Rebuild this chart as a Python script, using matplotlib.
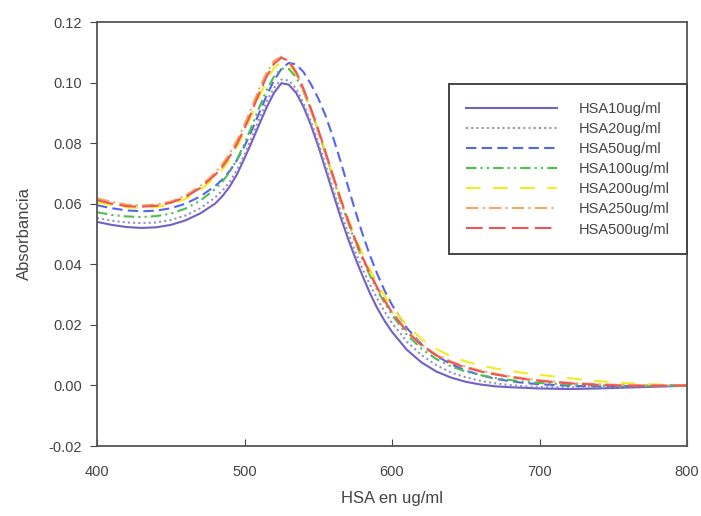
import matplotlib
matplotlib.use("Agg")
import matplotlib.pyplot as plt

plt.rcParams['font.family'] = ['Liberation Sans', 'DejaVu Sans']

wavelength = [400, 410, 420, 430, 440, 450, 460, 470, 480, 485, 490, 495, 500, 505, 510,
              515, 520, 525, 530, 535, 540, 545, 550, 555, 560, 565, 570, 575, 580, 585,
              590, 595, 600, 610, 620, 630, 640, 650, 660, 670, 680, 690, 700, 720, 740,
              760, 780, 800]

hsa10 = [0.0540, 0.0530, 0.0523, 0.0520, 0.0522, 0.0530, 0.0545, 0.0568, 0.0600, 0.0625,
         0.0657, 0.0698, 0.0750, 0.0805, 0.0862, 0.0918, 0.0966, 0.0998, 0.0993, 0.0966,
         0.0920, 0.0860, 0.0790, 0.0713, 0.0635, 0.0558, 0.0487, 0.0422, 0.0362, 0.0305,
         0.0255, 0.0213, 0.0177, 0.0118, 0.0076, 0.0046, 0.0026, 0.0012, 0.0003, -0.0003,
         -0.0006, -0.0008, -0.0010, -0.0012, -0.0010, -0.0007, -0.0004, -0.0001]

hsa20 = [0.0553, 0.0544, 0.0538, 0.0536, 0.0538, 0.0546, 0.0561, 0.0585, 0.0620, 0.0643,
         0.0672, 0.0712, 0.0762, 0.0820, 0.0880, 0.0937, 0.0983, 0.1010, 0.1007, 0.0980,
         0.0932, 0.0872, 0.0803, 0.0727, 0.0650, 0.0576, 0.0507, 0.0443, 0.0385, 0.0333,
         0.0286, 0.0244, 0.0206, 0.0145, 0.0100, 0.0067, 0.0043, 0.0027, 0.0015, 0.0007,
         0.0001, -0.0003, -0.0005, -0.0006, -0.0006, -0.0004, -0.0002, 0.0000]

hsa50 = [0.0595, 0.0585, 0.0578, 0.0575, 0.0577, 0.0585, 0.0600, 0.0624, 0.0658, 0.0680,
         0.0708, 0.0745, 0.0790, 0.0843, 0.0900, 0.0957, 0.1007, 0.1045, 0.1065, 0.1060,
         0.1035, 0.0995, 0.0948, 0.0890, 0.0820, 0.0742, 0.0660, 0.0578, 0.0500, 0.0430,
         0.0368, 0.0313, 0.0266, 0.0190, 0.0136, 0.0098, 0.0070, 0.0049, 0.0034, 0.0022,
         0.0014, 0.0008, 0.0004, -0.0001, -0.0003, -0.0002, -0.0001, 0.0000]

hsa100 = [0.0572, 0.0563, 0.0558, 0.0556, 0.0559, 0.0567, 0.0584, 0.0610, 0.0648, 0.0673,
          0.0705, 0.0747, 0.0798, 0.0857, 0.0918, 0.0975, 0.1020, 0.1046, 0.1045, 0.1018,
          0.0970, 0.0910, 0.0840, 0.0764, 0.0686, 0.0610, 0.0540, 0.0475, 0.0416, 0.0363,
          0.0315, 0.0272, 0.0233, 0.0168, 0.0121, 0.0087, 0.0063, 0.0046, 0.0034, 0.0025,
          0.0018, 0.0012, 0.0008, 0.0003, 0.0000, -0.0001, -0.0001, 0.0000]

hsa200 = [0.0605, 0.0595, 0.0588, 0.0586, 0.0589, 0.0598, 0.0616, 0.0645, 0.0686, 0.0713,
          0.0746, 0.0788, 0.0838, 0.0895, 0.0953, 0.1006, 0.1048, 0.1070, 0.1062, 0.1028,
          0.0975, 0.0912, 0.0843, 0.0770, 0.0695, 0.0622, 0.0554, 0.0491, 0.0434, 0.0383,
          0.0337, 0.0296, 0.0259, 0.0198, 0.0153, 0.0120, 0.0096, 0.0079, 0.0066, 0.0056,
          0.0048, 0.0041, 0.0035, 0.0024, 0.0014, 0.0007, 0.0003, 0.0000]

hsa250 = [0.0618, 0.0606, 0.0597, 0.0594, 0.0597, 0.0607, 0.0627, 0.0658, 0.0702, 0.0731,
          0.0766, 0.0810, 0.0862, 0.0920, 0.0980, 0.1033, 0.1072, 0.1085, 0.1070, 0.1030,
          0.0973, 0.0907, 0.0837, 0.0762, 0.0686, 0.0612, 0.0543, 0.0479, 0.0421, 0.0369,
          0.0322, 0.0280, 0.0242, 0.0180, 0.0135, 0.0102, 0.0079, 0.0062, 0.0049, 0.0039,
          0.0030, 0.0023, 0.0017, 0.0009, 0.0004, 0.0001, 0.0000, 0.0000]

hsa500 = [0.0612, 0.0600, 0.0592, 0.0590, 0.0593, 0.0603, 0.0622, 0.0652, 0.0695, 0.0722,
          0.0756, 0.0798, 0.0848, 0.0905, 0.0965, 0.1020, 0.1062, 0.1082, 0.1072, 0.1035,
          0.0980, 0.0915, 0.0845, 0.0770, 0.0693, 0.0618, 0.0548, 0.0483, 0.0424, 0.0371,
          0.0323, 0.0280, 0.0241, 0.0178, 0.0132, 0.0099, 0.0076, 0.0059, 0.0046, 0.0036,
          0.0028, 0.0021, 0.0015, 0.0007, 0.0002, -0.0001, -0.0001, 0.0000]

labels = ["HSA10ug/ml", "HSA20ug/ml", "HSA50ug/ml", "HSA100ug/ml",
          "HSA200ug/ml", "HSA250ug/ml", "HSA500ug/ml"]
series = [hsa10, hsa20, hsa50, hsa100, hsa200, hsa250, hsa500]
colors = ["#7260c4", "#9490c8", "#5566ee", "#4cc04c", "#eeee22", "#f2a860", "#f05555"]
dashes = [None, (1, 1.5), (5, 2.5), (5, 2, 1, 2, 1, 2), (7, 6), (6, 2, 1, 2), (8, 3)]
xticks = [400, 500, 600, 700, 800]
yticks = [-0.02, 0.00, 0.02, 0.04, 0.06, 0.08, 0.10, 0.12]

fig = plt.figure(figsize=(7.01, 5.16), dpi=100)
ax = fig.add_axes([97/701, 70/516, 590/701, 424/516])

for y, lab, c, d in zip(series, labels, colors, dashes):
    line, = ax.plot(wavelength, y, color=c, lw=1.5, label=lab)
    if d is not None:
        line.set_dashes(d)

ax.set_xlim(400, 800)
ax.set_ylim(-0.02, 0.12)
ax.set_xticks(xticks)
ax.set_yticks(yticks)
ax.set_yticklabels([f"{v:.2f}" for v in yticks])
ax.tick_params(axis='x', direction='in', length=5, pad=14, labelsize=10.5, colors='#444444')
ax.tick_params(axis='y', direction='out', length=5, pad=6, labelsize=10.5, colors='#444444')
for s in ax.spines.values():
    s.set_color('#555555')
    s.set_linewidth(1.3)

ax.set_xlabel("HSA en ug/ml", fontsize=12, color='#444444', labelpad=8)
ax.set_ylabel("Absorbancia", fontsize=12, color='#444444', labelpad=12)

leg = ax.legend(loc='upper right', bbox_to_anchor=(1.0, 0.853), fontsize=10.5,
                handlelength=6.2, handletextpad=1.5, labelspacing=0.42,
                borderpad=1.2, borderaxespad=0, fancybox=False, framealpha=1,
                edgecolor='#444444')
leg.get_frame().set_linewidth(1.4)
for t in leg.get_texts():
    t.set_color('#444444')

fig.savefig("out.png", dpi=100)
